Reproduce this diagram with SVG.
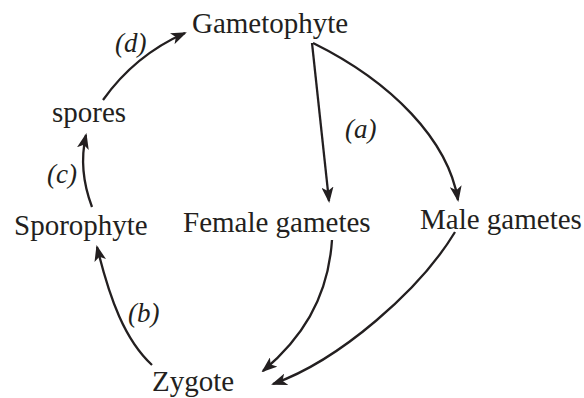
<svg xmlns="http://www.w3.org/2000/svg" width="584" height="398" viewBox="0 0 584 398">
<style>
.n{font-family:"Liberation Serif","DejaVu Serif",serif;font-size:29px;fill:#231f20}
.l{font-family:"Liberation Serif","DejaVu Serif",serif;font-size:27px;font-style:italic;fill:#231f20}
.c{fill:none;stroke:#231f20;stroke-width:2.3}
</style>
<defs>
<marker id="ah" markerUnits="userSpaceOnUse" markerWidth="16" markerHeight="12" viewBox="0 0 16 12" refX="14" refY="6" orient="auto">
<path d="M0,0 L16,6 L0,12 L4,6 z" fill="#231f20"/>
</marker>
</defs>
<rect width="584" height="398" fill="#fff"/>
<g id="connectors">
<path class="c" marker-end="url(#ah)" d="M103,100 Q135,55 185,33"/>
<path class="c" marker-end="url(#ah)" d="M92,207 Q78,170 86,135"/>
<path class="c" marker-end="url(#ah)" d="M312,43 L329,201"/>
<path class="c" marker-end="url(#ah)" d="M313,43 C392,82 448,140 458,200"/>
<path class="c" marker-end="url(#ah)" d="M332,240 C328,300 300,340 263,371"/>
<path class="c" marker-end="url(#ah)" d="M455,232 C420,290 340,360 273,384"/>
<path class="c" marker-end="url(#ah)" d="M152,365 C125,340 110,300 97,247"/>
</g>
<g id="gametophyte"><text class="n" x="192" y="33">Gametophyte</text></g>
<g id="spores"><text class="n" x="52" y="122">spores</text></g>
<g id="sporophyte"><text class="n" x="14" y="235">Sporophyte</text></g>
<g id="female"><text class="n" x="183" y="232">Female gametes</text></g>
<g id="male"><text class="n" x="420" y="229">Male gametes</text></g>
<g id="zygote"><text class="n" x="152" y="391">Zygote</text></g>
<g id="labels">
<text class="l" x="345" y="138">(a)</text>
<text class="l" x="128" y="322">(b)</text>
<text class="l" x="47" y="183">(c)</text>
<text class="l" x="115" y="52">(d)</text>
</g>
</svg>
